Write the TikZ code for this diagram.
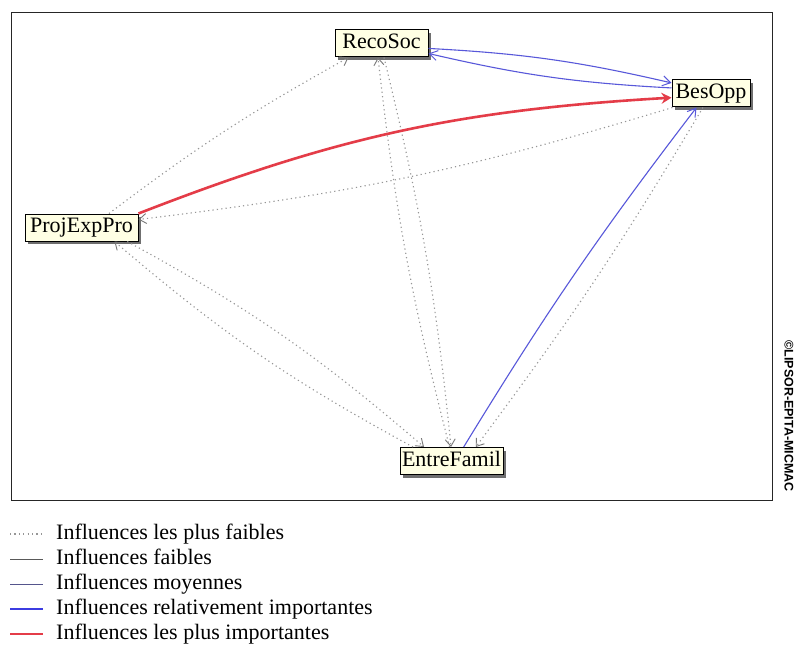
\documentclass[tikz,border=0pt]{standalone}
\usepackage{fontspec}
\setmainfont{Liberation Serif}
\newfontfamily\wmfont{Liberation Sans}
\usetikzlibrary{arrows.meta,shadows,bending}
\definecolor{nodefill}{RGB}{255,255,228}
\definecolor{dotgray}{RGB}{150,150,150}
\definecolor{tipgray}{RGB}{120,120,120}
\definecolor{midblue}{RGB}{88,88,218}
\definecolor{legblue}{RGB}{60,60,225}
\definecolor{slate}{RGB}{85,85,140}
\definecolor{redline}{RGB}{228,60,72}
\begin{document}
\begin{tikzpicture}[x=1pt,y=1pt,
  var/.style={draw=black,line width=1pt,fill=nodefill,
    font=\fontsize{22}{24}\selectfont,text height=15pt,text depth=5pt,
    inner ysep=3.5pt,inner xsep=2pt,
    drop shadow={shadow xshift=3pt,shadow yshift=-3pt,fill=black!80,opacity=0.7}},
  weakest/.style={draw=dotgray,line width=1.1pt,dash pattern=on 1.2pt off 3.2pt,
    -{Straight Barb[length=7pt,width=10pt,line width=0.9pt,color=tipgray]}},
  blueedge/.style={draw=midblue,line width=1.1pt,
    -{Straight Barb[length=8pt,width=10pt,line width=1pt]}},
  rededge/.style={draw=redline,line width=2.6pt,
    -{Stealth[length=10pt,width=11pt,bend]}},
  legtext/.style={anchor=west,font=\fontsize{22}{24}\selectfont,text height=15pt,text depth=5pt,inner sep=0pt},
]
\useasboundingbox (0,0) rectangle (800,-650);
\fill[white] (0,0) rectangle (800,-650);
% frame
\draw[black!85,line width=0.9pt] (11,-12) rectangle (772,-500);
% nodes
\node[var,minimum width=113pt] (P) at (81.5,-227.5) {ProjExpPro};
\node[var,minimum width=93pt] (R) at (381.5,-43.5) {RecoSoc};
\node[var,minimum width=78pt] (B) at (711,-93.5) {BesOpp};
\node[var,minimum width=103pt] (E) at (451.5,-461) {EntreFamil};
% edges
\draw[weakest] (P.27) to[bend left=4] (R.203);
\draw[weakest] (B.200) to[bend left=5] (P.8);
\draw[weakest] (B.240) to[bend left=3] (E.30);
\draw[weakest] (P.343) to[bend left=6] (E.153);
\draw[weakest] (E.160) to[bend left=6] (P.337);
\draw[weakest] (R.280) to[bend left=4] (E.92);
\draw[weakest] (E.98) to[bend left=4] (R.256);
\draw[blueedge] (R.-6) to[bend left=5] (B.165);
\draw[blueedge] (B.172) to[bend left=5] (R.-12);
\draw[blueedge] (E.49) to[bend left=3] (B.224);
\draw[rededge] (P.north east) to[bend left=9] (B.186);
% watermark
\node[rotate=-90,font=\wmfont\bfseries\fontsize{12.5}{12.5}\selectfont,inner sep=0pt] (wm) at (789,-416) {©LIPSOR-EPITA-MICMAC};
% legend
\coordinate (a1) at (10,-534); \coordinate (b1) at (43,-534);
\coordinate (a2) at (10,-559); \coordinate (b2) at (43,-559);
\coordinate (a3) at (10,-584); \coordinate (b3) at (43,-584);
\coordinate (a4) at (10,-609); \coordinate (b4) at (43,-609);
\coordinate (a5) at (10,-634); \coordinate (b5) at (43,-634);
\draw[dotgray,line width=1.1pt,dash pattern=on 1.2pt off 3.2pt] (a1) -- (b1);
\draw[black!65,line width=1pt] (a2) -- (b2);
\draw[slate,line width=1pt] (a3) -- (b3);
\draw[legblue,line width=2.2pt] (a4) -- (b4);
\draw[redline,line width=2.6pt] (a5) -- (b5);
\node[legtext] (t1) at (56,-534) {Influences les plus faibles};
\node[legtext] (t2) at (56,-559) {Influences faibles};
\node[legtext] (t3) at (56,-584) {Influences moyennes};
\node[legtext] (t4) at (56,-609) {Influences relativement importantes};
\node[legtext] (t5) at (56,-634) {Influences les plus importantes};
\end{tikzpicture}
\end{document}
